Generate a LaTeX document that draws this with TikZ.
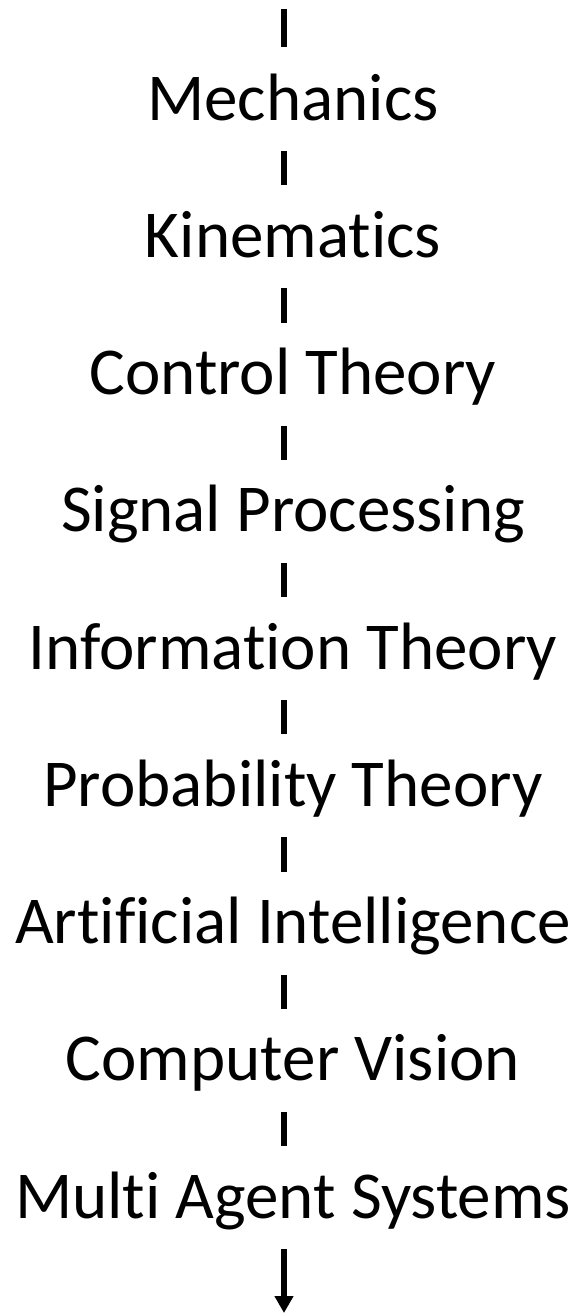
\documentclass[tikz,border=0pt]{standalone}
\usepackage{fontspec}
\setmainfont{Carlito}[Ligatures={NoCommon}]
\usetikzlibrary{calc,arrows.meta}
\tikzset{
  topic/.style={inner sep=0pt, outer sep=0pt, anchor=base,
    font=\fontsize{67}{80}\selectfont},
  link/.style={line width=6pt, black},
}
\begin{document}
\begin{tikzpicture}[x=1pt,y=1pt]
\useasboundingbox (0,0) rectangle (583,-1314);
\coordinate (axis) at (284,0);
\foreach \i/\t in {1/Mechanics,2/Kinematics,3/Control Theory,4/Signal Processing,5/Information Theory,6/Probability Theory,7/Artificial Intelligence,8/Computer Vision,9/Multi Agent Systems}{
  \node[topic] (n\i) at (293,{-120-137.25*(\i-1)}) {\t};
}
\coordinate (top) at (284,-9);
\coordinate (end) at (284,-1313);
\draw[link] (top) -- ($(n1.base -| axis)+(0,73)$);
\foreach \i [count=\j from 2] in {1,...,8}{
  \draw[link] ($(n\i.base -| axis)+(0,-31)$) -- ($(n\j.base -| axis)+(0,72)$);
}
\draw[link,-{Triangle[length=17pt,width=18pt]}] ($(n9.base -| axis)+(0,-31)$) -- (end);
\end{tikzpicture}
\end{document}
